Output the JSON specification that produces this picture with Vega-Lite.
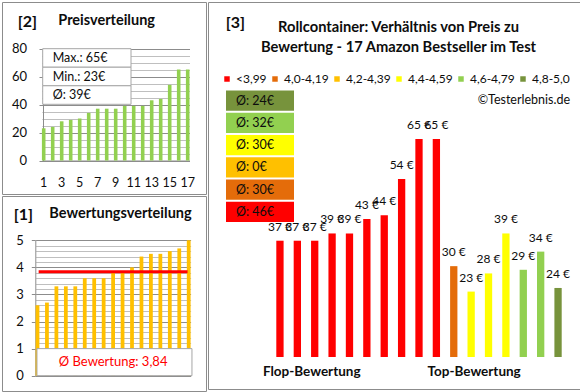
{
  "$schema": "https://vega.github.io/schema/vega-lite/v6.json",
  "padding": {"left": 1, "top": 1, "right": 3, "bottom": 4},
  "background": "white",
  "datasets": {
    "dist": [
      {"i": 1, "price": 23}, {"i": 2, "price": 24}, {"i": 3, "price": 28}, {"i": 4, "price": 29},
      {"i": 5, "price": 30}, {"i": 6, "price": 34}, {"i": 7, "price": 37}, {"i": 8, "price": 37},
      {"i": 9, "price": 37}, {"i": 10, "price": 39}, {"i": 11, "price": 39}, {"i": 12, "price": 39},
      {"i": 13, "price": 43}, {"i": 14, "price": 44}, {"i": 15, "price": 54}, {"i": 16, "price": 65},
      {"i": 17, "price": 65}
    ],
    "stats": [{"label": "Max.: 65€"}, {"label": "Min.: 23€"}, {"label": "Ø: 39€"}],
    "ratings": [
      {"i": 1, "rating": 2.6}, {"i": 2, "rating": 2.7}, {"i": 3, "rating": 3.3}, {"i": 4, "rating": 3.3},
      {"i": 5, "rating": 3.3}, {"i": 6, "rating": 3.6}, {"i": 7, "rating": 3.6}, {"i": 8, "rating": 3.6},
      {"i": 9, "rating": 3.8}, {"i": 10, "rating": 3.8}, {"i": 11, "rating": 4.0}, {"i": 12, "rating": 4.4},
      {"i": 13, "rating": 4.5}, {"i": 14, "rating": 4.5}, {"i": 15, "rating": 4.6}, {"i": 16, "rating": 4.7},
      {"i": 17, "rating": 5.0}
    ],
    "avg": [{"avg": 3.84, "t": "Ø Bewertung: 3,84"}],
    "p3": [
      {"rank": 1, "price": 37, "cat": "<3,99"}, {"rank": 2, "price": 37, "cat": "<3,99"},
      {"rank": 3, "price": 37, "cat": "<3,99"}, {"rank": 4, "price": 39, "cat": "<3,99"},
      {"rank": 5, "price": 39, "cat": "<3,99"}, {"rank": 6, "price": 43, "cat": "<3,99"},
      {"rank": 7, "price": 44, "cat": "<3,99"}, {"rank": 8, "price": 54, "cat": "<3,99"},
      {"rank": 9, "price": 65, "cat": "<3,99"}, {"rank": 10, "price": 65, "cat": "<3,99"},
      {"rank": 11, "price": 30, "cat": "4,0-4,19"}, {"rank": 12, "price": 23, "cat": "4,4-4,59"},
      {"rank": 13, "price": 28, "cat": "4,4-4,59"}, {"rank": 14, "price": 39, "cat": "4,4-4,59"},
      {"rank": 15, "price": 29, "cat": "4,6-4,79"}, {"rank": 16, "price": 34, "cat": "4,6-4,79"},
      {"rank": 17, "price": 24, "cat": "4,8-5,0"}
    ],
    "boxes": [
      {"cat": "4,8-5,0", "label": "Ø: 24€"},
      {"cat": "4,6-4,79", "label": "Ø: 32€"},
      {"cat": "4,4-4,59", "label": "Ø: 30€"},
      {"cat": "4,2-4,39", "label": "Ø: 0€"},
      {"cat": "4,0-4,19", "label": "Ø: 30€"},
      {"cat": "<3,99", "label": "Ø: 46€"}
    ]
  },
  "config": {
    "font": "Lato",
    "view": {"stroke": "#8c8c8c", "strokeWidth": 1},
    "axis": {"labelFont": "Lato", "labelColor": "#0d0d0d"},
    "title": {"font": "Lato", "color": "#0d0d0d"},
    "legend": {"labelFont": "Lato", "titleFont": "Lato"}
  },
  "spacing": 0,
  "hconcat": [
    {
      "spacing": 0,
      "vconcat": [
        {
          "title": {"text": "[2]", "anchor": "start", "dx": 16.3, "offset": -28.5, "fontSize": 16, "fontWeight": "bold"},
          "vconcat": [
            {
              "width": 204,
              "height": 192,
              "title": {"text": "Preisverteilung", "anchor": "start", "frame": "group", "dx": 56.3, "offset": -26.5, "fontSize": 14.5, "fontWeight": "bold"},
              "layer": [
                {
                  "data": {"name": "dist"},
                  "mark": {"type": "bar", "color": "#92d050"},
                  "encoding": {
                    "x": {
                      "field": "i", "type": "ordinal",
                      "scale": {"range": [39.9, 187.5], "paddingInner": 0.6, "paddingOuter": 0},
                      "axis": {"orient": "bottom", "offset": -33.5, "values": [1, 3, 5, 7, 9, 11, 13, 15, 17], "labelAngle": 0, "labelOverlap": false, "ticks": false, "domainColor": "#8c8c8c", "labelPadding": 16, "labelFontSize": 12.5, "title": null}
                    },
                    "y": {
                      "field": "price", "type": "quantitative",
                      "scale": {"domain": [0, 80], "range": [158.5, 46.5], "nice": false},
                      "axis": {
                        "offset": -41,
                        "values": [0, 5, 10, 15, 20, 25, 30, 35, 40, 45, 50, 55, 60, 65, 70, 75, 80],
                        "labelExpr": "datum.value % 20 == 0 ? '' + datum.value : ''",
                        "grid": true,
                        "gridColor": {"condition": {"test": "datum.value % 20 == 0", "value": "#8c8c8c"}, "value": "#bfbfbf"},
                        "tickColor": {"condition": {"test": "datum.value % 20 == 0", "value": "#8c8c8c"}, "value": "transparent"},
                        "tickSize": 4,
                        "domainColor": "#8c8c8c",
                        "labelPadding": 12.5,
                        "labelFontSize": 13,
                        "labelOverlap": false,
                        "title": null
                      }
                    }
                  }
                },
                {
                  "data": {"name": "stats"},
                  "layer": [
                    {
                      "mark": {"type": "rect", "fill": "white", "stroke": "#a6a6a6", "strokeWidth": 1},
                      "encoding": {
                        "x": {"datum": 0, "type": "quantitative", "scale": {"domain": [0, 1], "range": [40.7, 129]}, "axis": null},
                        "x2": {"datum": 1},
                        "y": {"field": "label", "type": "nominal", "sort": null, "scale": {"range": [46.7, 102.3], "paddingInner": 0, "paddingOuter": 0}, "axis": null}
                      }
                    },
                    {
                      "mark": {"type": "text", "align": "left", "dx": 10, "fontSize": 12.5, "color": "#0d0d0d"},
                      "encoding": {
                        "x": {"datum": 0, "type": "quantitative"},
                        "y": {"field": "label", "type": "nominal", "sort": null},
                        "text": {"field": "label"}
                      }
                    }
                  ]
                }
              ],
              "resolve": {"scale": {"x": "independent", "y": "independent"}}
            }
          ]
        },
        {
          "title": {"text": "[1]", "anchor": "start", "dx": 12.3, "offset": -27.7, "fontSize": 16, "fontWeight": "bold"},
          "vconcat": [
            {
              "width": 204,
              "height": 195,
              "title": {"text": "Bewertungsverteilung", "anchor": "start", "frame": "group", "dx": 47.3, "offset": -25.5, "fontSize": 14.5, "fontWeight": "bold"},
              "layer": [
                {
                  "data": {"name": "ratings"},
                  "mark": {"type": "bar", "color": "#ffc000"},
                  "encoding": {
                    "x": {
                      "field": "i", "type": "ordinal",
                      "scale": {"range": [33.6, 188.6], "paddingInner": 0.6, "paddingOuter": 0},
                      "axis": {"orient": "bottom", "offset": -15.3, "labels": false, "ticks": false, "domainColor": "#8c8c8c", "title": null}
                    },
                    "y": {
                      "field": "rating", "type": "quantitative",
                      "scale": {"domain": [0, 5], "range": [179.7, 44.3], "nice": false},
                      "axis": {
                        "offset": -33.3,
                        "values": [0, 0.2, 0.4, 0.6, 0.8, 1, 1.2, 1.4, 1.6, 1.8, 2, 2.2, 2.4, 2.6, 2.8, 3, 3.2, 3.4, 3.6, 3.8, 4, 4.2, 4.4, 4.6, 4.8, 5],
                        "labelExpr": "datum.value % 1 == 0 ? '' + datum.value : ''",
                        "grid": true,
                        "gridColor": {"condition": {"test": "datum.value % 1 == 0", "value": "#8c8c8c"}, "value": "#bfbfbf"},
                        "tickColor": {"condition": {"test": "datum.value % 1 == 0", "value": "#8c8c8c"}, "value": "transparent"},
                        "tickSize": 4,
                        "domainColor": "#8c8c8c",
                        "labelPadding": 8,
                        "labelFontSize": 13,
                        "labelOverlap": false,
                        "title": null
                      }
                    }
                  }
                },
                {
                  "data": {"name": "avg"},
                  "layer": [
                    {
                      "mark": {"type": "rect", "fill": "white", "stroke": "#a6a6a6", "strokeWidth": 1},
                      "encoding": {
                        "x": {"datum": 0.65, "type": "quantitative", "scale": {"domain": [0.5, 17.5], "range": [33.6, 188.6], "nice": false, "zero": false}, "axis": null},
                        "x2": {"datum": 17.65},
                        "y": {"datum": 0, "type": "quantitative", "scale": {"domain": [0, 5], "range": [179.7, 44.3], "nice": false}, "axis": null},
                        "y2": {"datum": 1}
                      }
                    },
                    {
                      "mark": {"type": "rule", "color": "#ff0000", "strokeWidth": 3, "strokeCap": "square"},
                      "encoding": {
                        "x": {"datum": 1, "type": "quantitative"},
                        "x2": {"datum": 17},
                        "y": {"field": "avg", "type": "quantitative"}
                      }
                    },
                    {
                      "mark": {"type": "text", "align": "center", "baseline": "middle", "fontSize": 13, "color": "#ff0000"},
                      "encoding": {
                        "x": {"datum": 9, "type": "quantitative"},
                        "y": {"datum": 0.5, "type": "quantitative"},
                        "text": {"field": "t"}
                      }
                    }
                  ]
                }
              ],
              "resolve": {"scale": {"x": "independent", "y": "independent"}}
            }
          ]
        }
      ]
    },
    {
      "title": {"text": "[3]", "anchor": "start", "dx": 18.3, "offset": -29.4, "fontSize": 16, "fontWeight": "bold"},
      "vconcat": [
        {
          "width": 372,
          "height": 387,
          "title": {
            "text": ["Rollcontainer: Verhältnis von Preis zu", "Bewertung - 17 Amazon Bestseller im Test"],
            "anchor": "middle", "frame": "group", "dx": 4.5, "offset": -52.8, "fontSize": 14.7, "fontWeight": "bold", "lineHeight": 20
          },
          "layer": [
            {
              "data": {"name": "p3"},
              "transform": [{"calculate": "datum.price + ' €'", "as": "lbl"}],
              "layer": [
                {
                  "mark": {"type": "bar"},
                  "encoding": {
                    "x": {
                      "field": "rank", "type": "ordinal",
                      "scale": {"range": [68.3, 353.7], "paddingInner": 0.58, "paddingOuter": 0},
                      "axis": {
                        "orient": "bottom", "offset": -32, "domain": false, "ticks": false, "labelAngle": 0,
                        "labelOverlap": false, "labelBound": false,
                        "labelExpr": "datum.value == 3 ? 'Flop-Bewertung' : datum.value == 12 ? 'Top-Bewertung' : ''",
                        "labelOffset": {"condition": {"test": "datum.value == 12", "value": 3}, "value": -3},
                        "labelFontSize": 13.5, "labelFontWeight": "bold", "labelPadding": 7.5, "title": null
                      }
                    },
                    "y": {"field": "price", "type": "quantitative", "scale": {"domain": [5, 70], "range": [355, 118.8], "nice": false, "zero": false}, "axis": null},
                    "y2": {"datum": 5},
                    "color": {
                      "field": "cat", "type": "nominal",
                      "scale": {"domain": ["<3,99", "4,0-4,19", "4,2-4,39", "4,4-4,59", "4,6-4,79", "4,8-5,0"], "range": ["#ff0000", "#e46c0a", "#ffc000", "#ffff00", "#92d050", "#77933c"]},
                      "legend": {
                        "orient": "none", "legendX": 219, "legendY": 71, "direction": "horizontal", "columns": 6, "gridAlign": "none",
                        "title": "©Testerlebnis.de", "titleOrient": "bottom", "titleAnchor": "end", "titleFontWeight": "normal",
                        "titleFontSize": 12.5, "titlePadding": 9, "titleColor": "#0d0d0d",
                        "symbolType": "square", "symbolSize": 30, "symbolStrokeWidth": 0,
                        "labelFontSize": 12, "labelOffset": 3, "columnPadding": 2, "labelColor": "#0d0d0d"
                      }
                    }
                  }
                },
                {
                  "mark": {"type": "text", "baseline": "bottom", "dy": -7, "fontSize": 12, "color": "#0d0d0d"},
                  "encoding": {
                    "x": {"field": "rank", "type": "ordinal"},
                    "y": {"field": "price", "type": "quantitative"},
                    "text": {"field": "lbl"}
                  }
                }
              ]
            },
            {
              "data": {"name": "boxes"},
              "layer": [
                {
                  "mark": {"type": "rect"},
                  "encoding": {
                    "x": {"datum": 0, "type": "quantitative", "scale": {"domain": [0, 1], "range": [18, 86]}, "axis": null},
                    "x2": {"datum": 1},
                    "y": {"field": "cat", "type": "nominal", "sort": null, "scale": {"range": [88.5, 220], "paddingInner": 0.09, "paddingOuter": 0}, "axis": null},
                    "color": {"field": "cat", "type": "nominal"}
                  }
                },
                {
                  "mark": {"type": "text", "align": "left", "dx": 10, "fontSize": 12.5, "color": "#0d0d0d"},
                  "encoding": {
                    "x": {"datum": 0, "type": "quantitative"},
                    "y": {"field": "cat", "type": "nominal", "sort": null},
                    "text": {"field": "label"}
                  }
                }
              ]
            }
          ],
          "resolve": {"scale": {"x": "independent", "y": "independent"}}
        }
      ]
    }
  ]
}
